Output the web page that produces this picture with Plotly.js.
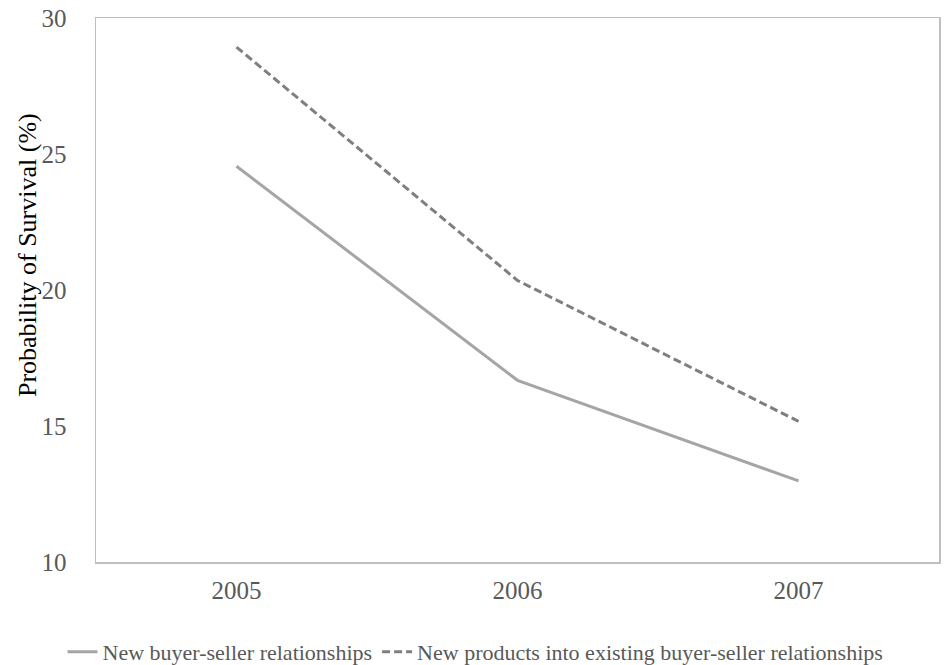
<!DOCTYPE html>
<html>
<head>
<meta charset="utf-8">
<script src="https://cdn.plot.ly/plotly-3.0.1.min.js"></script>
<style>html,body{margin:0;padding:0;background:#fff}#chart{width:951px;height:665px}</style>
</head>
<body>
<div id="chart"></div>
<script>
const years = ["2005", "2006", "2007"];
const newRelationships = [24.55, 16.68, 12.98];
const newProductsExisting = [28.93, 20.35, 15.17];
const seriesNames = ["New buyer-seller relationships", "New products into existing buyer-seller relationships"];
const yTicks = [10, 15, 20, 25, 30];
const yTitle = "Probability of Survival (%)";

const fam = "'Liberation Serif', 'Times New Roman', serif";
const font = {family: fam, color: "#595959"};

const traces = [
  {x: years, y: newRelationships, name: seriesNames[0], type: "scatter", mode: "lines",
   line: {color: "#A5A5A5", width: 3}},
  {x: years, y: newProductsExisting, name: seriesNames[1], type: "scatter", mode: "lines",
   line: {color: "#7F7F7F", width: 3, dash: "8px,4px"}}
];

const layout = {
  width: 951, height: 665,
  margin: {l: 96, r: 12, t: 18, b: 103, autoexpand: false},
  paper_bgcolor: "#fff", plot_bgcolor: "#fff",
  font: Object.assign({}, font, {size: 24}),
  showlegend: true,
  legend: {orientation: "h", x: 0.5, xanchor: "center", xref: "container",
    y: -0.1654, yanchor: "middle", yref: "paper", borderwidth: 0,
    font: Object.assign({}, font, {size: 22}), itemwidth: 30, tracegroupgap: 0},
  xaxis: {type: "category", range: [-0.5, 2.5], showgrid: false, zeroline: false,
    showline: true, mirror: true, linecolor: "#BFBFBF", linewidth: 1.5, ticks: "",
    ticklabelstandoff: 5, tickfont: Object.assign({}, font, {size: 25})},
  yaxis: {range: [10, 30], tickvals: yTicks, showgrid: false, zeroline: false,
    showline: true, mirror: true, linecolor: "#BFBFBF", linewidth: 1.5, ticks: "",
    ticklabelstandoff: 23, tickfont: Object.assign({}, font, {size: 25})},
  annotations: [{text: yTitle, textangle: -90, showarrow: false,
    xref: "paper", yref: "paper", x: -0.082, y: 0.564, xanchor: "center", yanchor: "middle",
    font: Object.assign({}, font, {size: 26, color: "#000"})}]
};

Plotly.newPlot("chart", traces, layout, {displayModeBar: false, staticPlot: true});
</script>
</body>
</html>
